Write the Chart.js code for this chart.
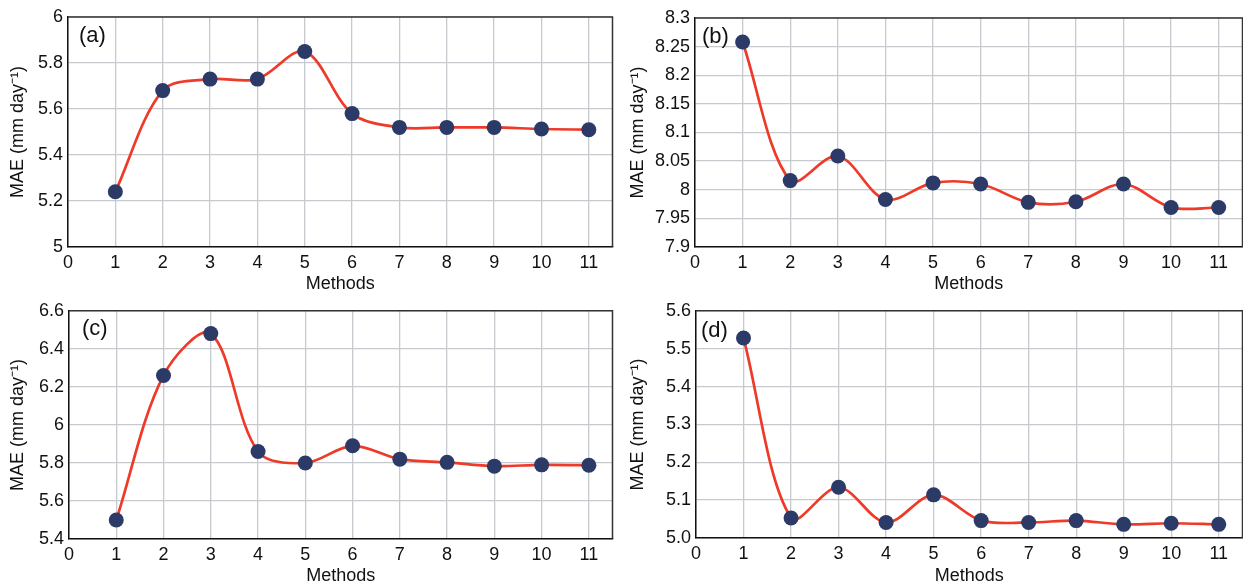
<!DOCTYPE html>
<html>
<head>
<meta charset="utf-8">
<script src="https://cdn.jsdelivr.net/npm/chart.js@4"></script>
<style>
  html, body { margin: 0; padding: 0; background: #fff; overflow: hidden; }
  body { width: 1243px; height: 587px; position: relative; }
  canvas { position: absolute; }
</style>
</head>
<body>
<canvas id="chartA"></canvas>
<canvas id="chartB"></canvas>
<canvas id="chartC"></canvas>
<canvas id="chartD"></canvas>
<script>
const methods = [1, 2, 3, 4, 5, 6, 7, 8, 9, 10, 11];
const maeA = [5.24, 5.68, 5.73, 5.73, 5.85, 5.58, 5.52, 5.52, 5.52, 5.513, 5.51];
const maeB = [8.258, 8.016, 8.059, 7.983, 8.012, 8.010, 7.978, 7.979, 8.010, 7.969, 7.969];
const maeC = [5.50, 6.26, 6.48, 5.86, 5.80, 5.89, 5.82, 5.803, 5.783, 5.79, 5.788];
const maeD = [5.528, 5.053, 5.134, 5.041, 5.114, 5.046, 5.041, 5.046, 5.036, 5.039, 5.036];

const xTicks = ["0", "1", "2", "3", "4", "5", "6", "7", "8", "9", "10", "11"];
const yTicksA = ["5", "5.2", "5.4", "5.6", "5.8", "6"];
const yTicksB = ["7.9", "7.95", "8", "8.05", "8.1", "8.15", "8.2", "8.25", "8.3"];
const yTicksC = ["5.4", "5.6", "5.8", "6", "6.2", "6.4", "6.6"];
const yTicksD = ["5.0", "5.1", "5.2", "5.3", "5.4", "5.5", "5.6"];

const FONT = "'Liberation Sans', Arial, Helvetica, sans-serif";

// where each panel sits on the page
const panels = [
    { id: "chartA", label: "(a)", data: maeA, ticks: yTicksA, left: 0, top: 0, w: 620, h: 295, padTop: 17, padRight: 2, yWidth: 68, xHeight: 48, lx: 11, ly: 19 },
    { id: "chartB", label: "(b)", data: maeB, ticks: yTicksB, left: 620, top: 0, w: 630, h: 295, padTop: 18, padRight: 6, yWidth: 75, xHeight: 48, lx: 7, ly: 19 },
    { id: "chartC", label: "(c)", data: maeC, ticks: yTicksC, left: 0, top: 295, w: 620, h: 292, padTop: 14, padRight: 2, yWidth: 69, xHeight: 48, lx: 13, ly: 18 },
    { id: "chartD", label: "(d)", data: maeD, ticks: yTicksD, left: 620, top: 295, w: 630, h: 292, padTop: 12, padRight: 6, yWidth: 76, xHeight: 49, lx: 5, ly: 20 },
];

// top/right frame + panel letter
const framePlugin = {
    id: "frame",
    afterDraw(chart, args, opts) {
        const { ctx, chartArea: a } = chart;
        ctx.save();
        ctx.strokeStyle = "#333";
        ctx.lineWidth = 1.5;
        ctx.beginPath();
        ctx.moveTo(a.left, a.top);
        ctx.lineTo(a.right, a.top);
        ctx.lineTo(a.right, a.bottom);
        ctx.stroke();
        ctx.fillStyle = "#111";
        ctx.font = "22px " + FONT;
        ctx.textBaseline = "middle";
        ctx.textAlign = "left";
        ctx.fillText(opts.text, a.left + opts.lx, a.top + opts.ly);
        ctx.restore();
    },
};

panels.forEach(function (p) {
    const canvas = document.getElementById(p.id);
    canvas.width = p.w;
    canvas.height = p.h;
    canvas.style.left = p.left + "px";
    canvas.style.top = p.top + "px";
    canvas.style.width = p.w + "px";
    canvas.style.height = p.h + "px";

    const yVals = p.ticks.map(parseFloat);

    new Chart(canvas.getContext("2d"), {
        type: "line",
        data: {
            datasets: [{
                data: methods.map((m, i) => ({ x: m, y: p.data[i] })),
                borderColor: "#ee3a29",
                borderWidth: 2.7,
                tension: 0.33,
                pointRadius: 7.5,
                pointBackgroundColor: "#2b3a66",
                pointBorderWidth: 0,
                fill: false,
            }],
        },
        options: {
            responsive: false,
            animation: false,
            devicePixelRatio: 1,
            events: [],
            layout: { padding: { top: p.padTop, right: p.padRight, left: 0, bottom: 0 } },
            plugins: {
                legend: { display: false },
                tooltip: { enabled: false },
                frame: { text: p.label, lx: p.lx, ly: p.ly },
            },
            scales: {
                x: {
                    type: "linear",
                    min: 0,
                    max: 11.5,
                    afterBuildTicks: (s) => { s.ticks = xTicks.map(t => ({ value: parseFloat(t) })); },
                    afterFit: (s) => { s.height = p.xHeight; },
                    ticks: {
                        color: "#111",
                        font: { family: FONT, size: 18 },
                        padding: 5,
                        maxRotation: 0,
                        callback: (v, i) => xTicks[i],
                    },
                    grid: { color: "#c6cacf", lineWidth: 1.3, drawTicks: false },
                    border: { color: "#111", width: 1.5 },
                    title: {
                        display: true,
                        text: "Methods",
                        color: "#111",
                        font: { family: FONT, size: 18 },
                        padding: { top: 0, bottom: 0 },
                    },
                },
                y: {
                    min: yVals[0],
                    max: yVals[yVals.length - 1],
                    afterBuildTicks: (s) => { s.ticks = yVals.map(v => ({ value: v })); },
                    afterFit: (s) => { s.width = p.yWidth; },
                    ticks: {
                        color: "#111",
                        font: { family: FONT, size: 18 },
                        padding: 5,
                        callback: (v, i) => p.ticks[i],
                    },
                    grid: { color: "#c6cacf", lineWidth: 1.3, drawTicks: false },
                    border: { color: "#111", width: 1.5 },
                    title: {
                        display: true,
                        text: "MAE (mm day\u207B\u00B9)",
                        color: "#111",
                        font: { family: FONT, size: 18 },
                        padding: { top: 7, bottom: 0 },
                    },
                },
            },
        },
        plugins: [framePlugin],
    });
});
</script>
</body>
</html>
